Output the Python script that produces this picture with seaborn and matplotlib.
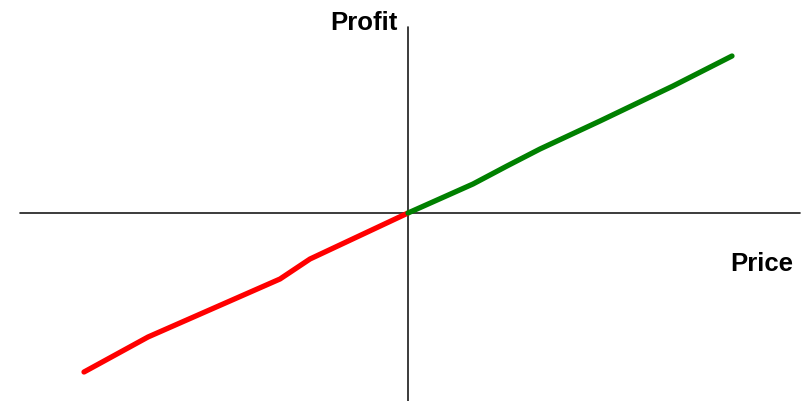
import numpy as np
import pandas as pd
import seaborn as sns
import matplotlib.pyplot as plt

# profit curve (price relative to strike, profit)
loss_price = [-324, -260, -128, -98, 0]
loss_profit = [-159, -124, -66, -46, 0]
gain_price = [0, 65, 99, 132, 192, 265, 324]
gain_profit = [0, 29, 47, 64, 92, 127, 157]

sns.set_style("white")
plt.rcParams['font.family'] = ['Liberation Sans', 'DejaVu Sans']

fig = plt.figure(figsize=(8.06, 4.02), dpi=100)
ax = fig.add_axes([0, 0, 1, 1])

df_loss = pd.DataFrame({'price': loss_price, 'profit': loss_profit})
df_gain = pd.DataFrame({'price': gain_price, 'profit': gain_profit})

ax.plot([-388, 392], [0, 0], color='#1a1a1a', lw=1.2, zorder=1)
ax.plot([0, 0], [-190, 186], color='#1a1a1a', lw=1.2, zorder=1)

sns.lineplot(data=df_loss, x='price', y='profit', color='#ff0000', lw=3.8,
             solid_capstyle='round', sort=False, ax=ax, zorder=3)
sns.lineplot(data=df_gain, x='price', y='profit', color='#008000', lw=3.8,
             solid_capstyle='round', sort=False, ax=ax, zorder=3)

ax.text(-10, 191, 'Profit', ha='right', va='center', fontsize=18.5,
        fontweight='bold', color='black')
ax.text(385, -50, 'Price', ha='right', va='center', fontsize=18.5,
        fontweight='bold', color='black')

ax.set_xlim(-408, 398)
ax.set_ylim(-188, 214)
ax.axis('off')

fig.savefig('out.png', dpi=100, facecolor='white')
